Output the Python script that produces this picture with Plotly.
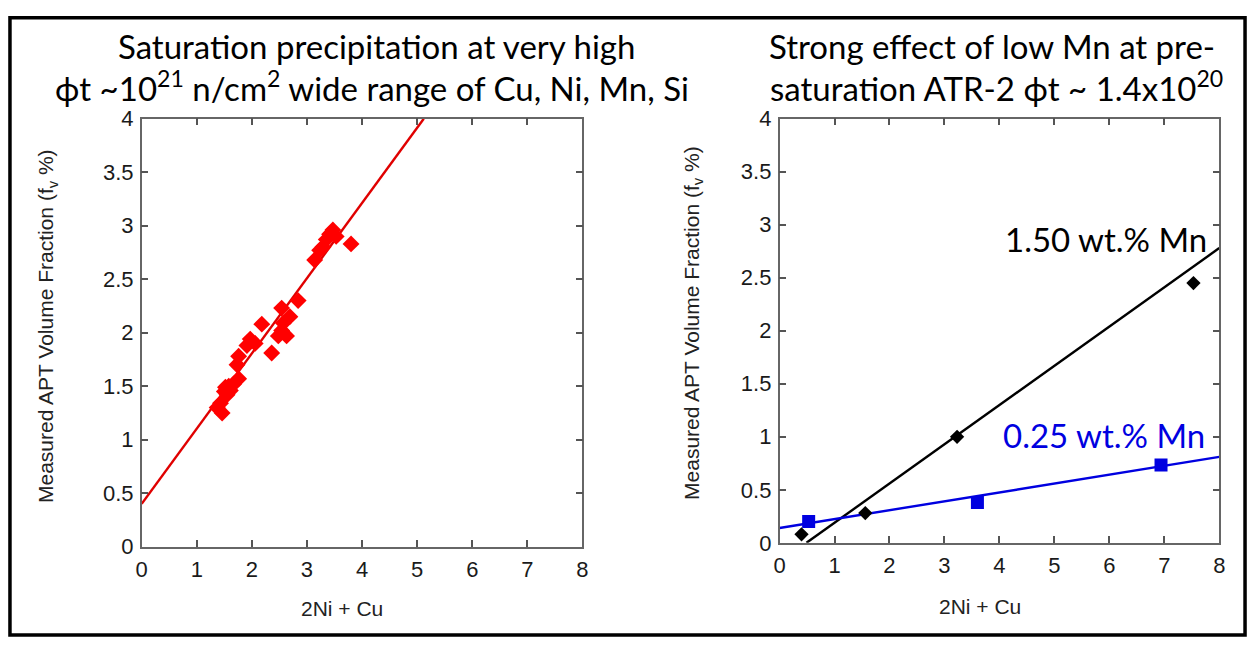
import plotly.graph_objects as go

W, H = 1255, 651

# ---------------- data ----------------
# Left panel: saturation precipitation (2Ni+Cu vs measured fv %)
left_x = [3.47, 3.41, 3.53, 3.35, 3.29, 3.23, 3.14, 3.80,
          2.84, 2.54, 2.69, 2.57, 2.18, 2.54, 2.63, 2.48, 2.36, 1.97, 1.91, 2.06,
          1.76, 1.73, 1.76, 1.67, 1.52, 1.61, 1.55, 1.43, 1.37, 1.46, 1.58, 1.50]
left_y = [2.96, 2.92, 2.90, 2.87, 2.80, 2.77, 2.68, 2.83,
          2.30, 2.23, 2.15, 2.09, 2.08, 2.02, 1.97, 1.97, 1.81, 1.94, 1.88, 1.90,
          1.78, 1.70, 1.57, 1.52, 1.49, 1.46, 1.42, 1.34, 1.30, 1.25, 1.50, 1.45]
left_fit_x = [0.0, 5.12]
left_fit_y = [0.40, 4.0]

# Right panel: pre-saturation ATR-2
hi_mn_x = [0.40, 1.56, 3.23, 7.53]
hi_mn_y = [0.08, 0.28, 1.00, 2.45]
hi_fit_x = [0.49, 8.0]
hi_fit_y = [0.0, 2.78]

lo_mn_x = [0.53, 3.60, 6.94]
lo_mn_y = [0.20, 0.38, 0.735]
lo_fit_x = [0.0, 8.0]
lo_fit_y = [0.14, 0.81]

x_ticks = [0, 1, 2, 3, 4, 5, 6, 7, 8]
y_ticks = [0, 0.5, 1, 1.5, 2, 2.5, 3, 3.5, 4]
y_tick_text = ["0", "0.5", "1", "1.5", "2", "2.5", "3", "3.5", "4"]

# ---------------- figure ----------------
fig = go.Figure()

fig.add_trace(go.Scatter(x=left_fit_x, y=left_fit_y, mode="lines",
                         line=dict(color="#e00000", width=2.4),
                         xaxis="x", yaxis="y", showlegend=False))
fig.add_trace(go.Scatter(x=left_x, y=left_y, mode="markers",
                         marker=dict(symbol="diamond", size=13, color="#ff0000"),
                         xaxis="x", yaxis="y", showlegend=False))

fig.add_trace(go.Scatter(x=hi_fit_x, y=hi_fit_y, mode="lines",
                         line=dict(color="#000000", width=2.4),
                         xaxis="x2", yaxis="y2", showlegend=False))
fig.add_trace(go.Scatter(x=lo_fit_x, y=lo_fit_y, mode="lines",
                         line=dict(color="#0000e0", width=2.4),
                         xaxis="x2", yaxis="y2", showlegend=False))
fig.add_trace(go.Scatter(x=hi_mn_x, y=hi_mn_y, mode="markers",
                         marker=dict(symbol="diamond", size=11, color="#000000"),
                         xaxis="x2", yaxis="y2", showlegend=False))
fig.add_trace(go.Scatter(x=lo_mn_x, y=lo_mn_y, mode="markers",
                         marker=dict(symbol="square", size=13, color="#0000e0"),
                         xaxis="x2", yaxis="y2", showlegend=False))

def px(x):
    return x / W

def py(y):
    return 1 - y / H

axis_common = dict(showline=True, linecolor="#666666", linewidth=1.5, mirror="ticks",
                   ticks="inside", ticklen=7, tickwidth=1.5, tickcolor="#555555",
                   showgrid=False, zeroline=False,
                   tickfont=dict(family="Liberation Sans, Arial", size=22, color="#1a1a1a"))

fig.update_layout(
    width=W, height=H, autosize=False,
    margin=dict(l=0, r=0, t=0, b=0),
    paper_bgcolor="white", plot_bgcolor="white",
    xaxis=dict(domain=[px(137), px(582)], range=[0, 8], tickvals=x_ticks,
               anchor="y", ticklabelstandoff=2, **axis_common),
    yaxis=dict(domain=[py(556), py(111)], range=[0, 4], tickvals=y_ticks,
               ticktext=y_tick_text, anchor="x", ticklabelstandoff=2, **axis_common),
    xaxis2=dict(domain=[px(781), px(1225)], range=[0, 8], tickvals=x_ticks,
                anchor="y2", ticklabelstandoff=2, **axis_common),
    yaxis2=dict(domain=[py(552), py(111)], range=[0, 4], tickvals=y_ticks,
                ticktext=y_tick_text, anchor="x2", ticklabelstandoff=2, **axis_common),
)

title_font = dict(family="Lato, Open Sans, sans-serif", size=33, color="#000000")
label_font = dict(family="Liberation Sans, Arial", size=21, color="#222222")

annotations = [
    dict(text="Saturation precipitation at very high", x=px(374), y=py(35)),
    dict(text="ϕt ~10<sup>21</sup> n/cm<sup>2</sup> wide range of Cu, Ni, Mn, Si", x=px(370), y=py(77)),
    dict(text="Strong effect of low Mn at pre-", x=px(996), y=py(35)),
    dict(text="saturation ATR-2 ϕt ~ 1.4x10<sup>20</sup>", x=px(1000), y=py(77)),
]
anns = []
for a in annotations:
    anns.append(dict(xref="paper", yref="paper", showarrow=False, font=title_font,
                     xanchor="center", yanchor="middle", **a))

anns.append(dict(text="1.50 wt.% Mn", x=px(1111), y=py(236), xref="paper", yref="paper",
                 showarrow=False, xanchor="center", yanchor="middle",
                 font=dict(family="Lato, Open Sans, sans-serif", size=33, color="#000000")))
anns.append(dict(text="0.25 wt.% Mn", x=px(1109), y=py(440), xref="paper", yref="paper",
                 showarrow=False, xanchor="center", yanchor="middle",
                 font=dict(family="Lato, Open Sans, sans-serif", size=33, color="#0000e0")))

ytitle = "Measured APT Volume Fraction (f<sub>v</sub> %)"
anns.append(dict(text=ytitle, x=px(42), y=py(327), xref="paper", yref="paper",
                 showarrow=False, textangle=-90, xanchor="center", yanchor="middle",
                 font=label_font))
anns.append(dict(text=ytitle, x=px(693), y=py(323), xref="paper", yref="paper",
                 showarrow=False, textangle=-90, xanchor="center", yanchor="middle",
                 font=label_font))
anns.append(dict(text="2Ni + Cu", x=px(339), y=py(620), xref="paper", yref="paper",
                 showarrow=False, xanchor="center", yanchor="middle", font=label_font))
anns.append(dict(text="2Ni + Cu", x=px(983), y=py(618), xref="paper", yref="paper",
                 showarrow=False, xanchor="center", yanchor="middle", font=label_font))

fig.update_layout(annotations=anns)

fig.add_shape(type="rect", xref="paper", yref="paper",
              x0=px(4), x1=px(1251), y0=py(648), y1=py(6),
              line=dict(color="black", width=3.5), fillcolor="rgba(0,0,0,0)")

fig.write_html("out.html")
